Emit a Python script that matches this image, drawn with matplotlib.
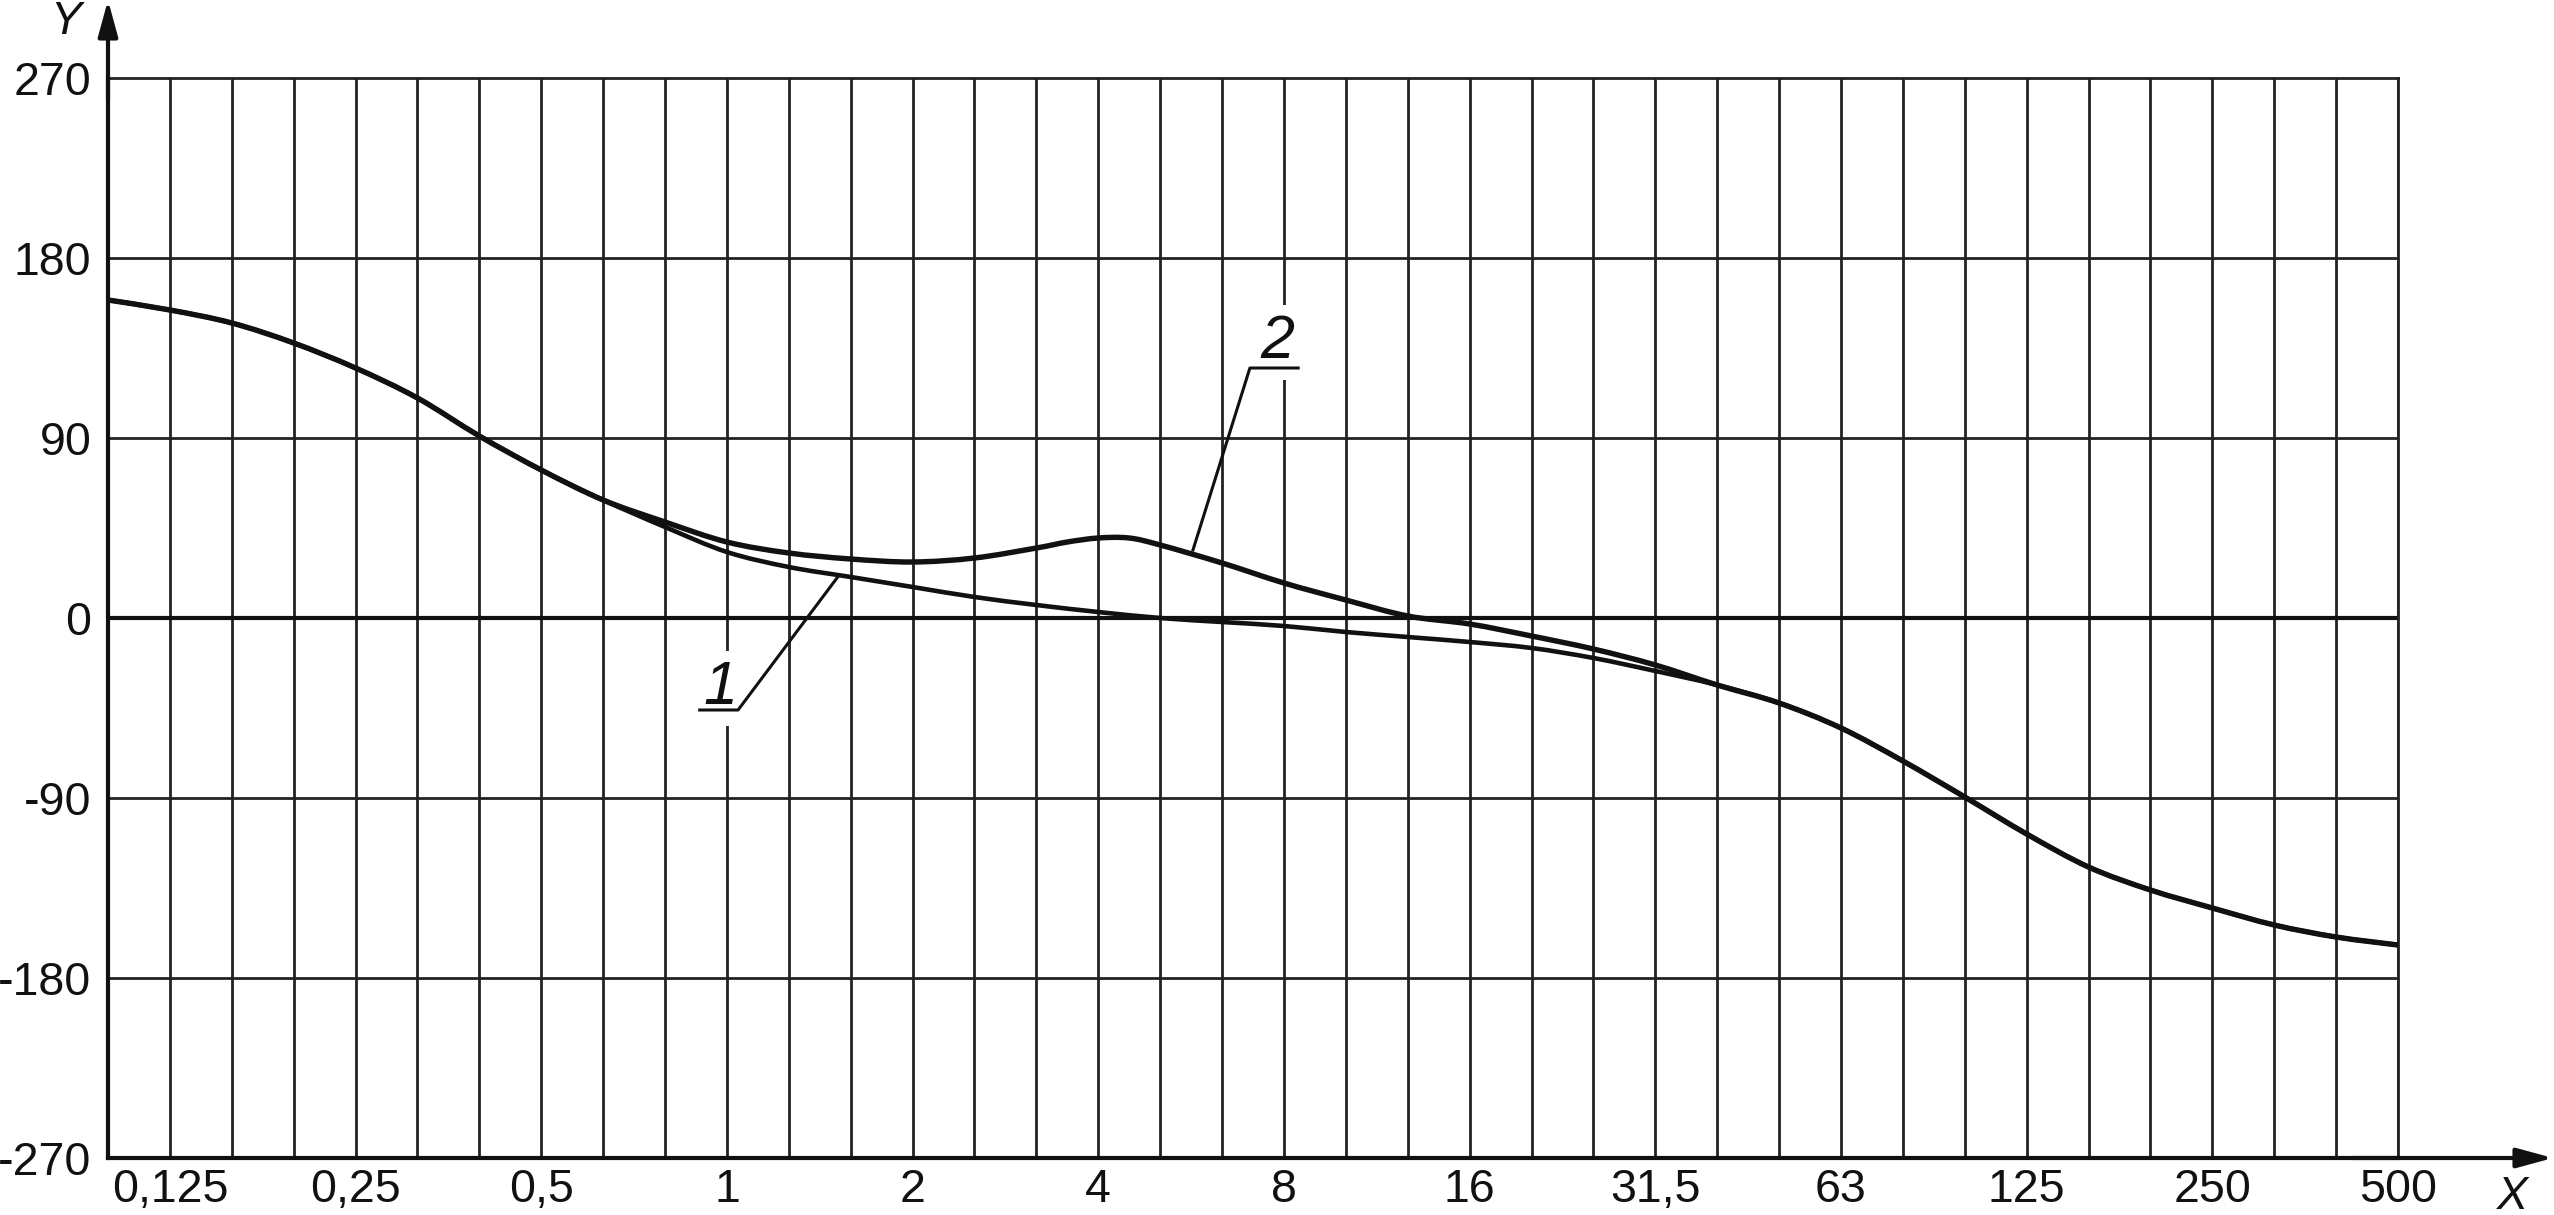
import numpy as np
import matplotlib.pyplot as plt
from matplotlib.path import Path
from matplotlib.patches import PathPatch

# third-octave steps counted from the left edge of the grid (0.1)
steps1 = list(range(38))
curve1 = [159, 154, 147.5, 137.5, 125, 110, 91, 74, 59, 45.5, 33, 25.5, 20.5, 15.5,
          10.5, 6.5, 3, 0, -2, -4, -7, -9.5, -12, -15, -20, -26.5, -33.5, -42.5,
          -55, -71.5, -89.5, -108, -124.5, -136, -145, -153.5, -159.5, -163.5]

steps2 = list(range(16)) + [15.5, 16, 16.5] + list(range(17, 38))
steps2 = sorted(set(steps2))
curve2 = [159, 154, 147.5, 137.5, 125, 110, 91, 74, 59, 48, 38, 32.5, 29.5, 28, 30,
          35, 38, 40, 40, 36.5, 27.5, 17.5, 9, 1, -3, -9, -15.5, -23.5, -33.5,
          -42.5, -55, -71.5, -89.5, -108, -124.5, -136, -145, -153.5, -159.5, -163.5]

x_labels = ['0,125', '0,25', '0,5', '1', '2', '4', '8', '16', '31,5', '63', '125', '250', '500']
y_ticks = [-270, -180, -90, 0, 90, 180, 270]

f0 = 0.125 * 2 ** (-1 / 3)


def band(n):
    return f0 * 2 ** (np.asarray(n, dtype=float) / 3)


def smooth_path(steps, vals):
    # draw the read points as one smooth bezier curve (catmull-rom style)
    p = np.column_stack([steps, vals]).astype(float)
    ext = np.vstack([p[0], p, p[-1]])
    verts = [p[0]]
    codes = [Path.MOVETO]
    for i in range(len(p) - 1):
        p0, p1, p2, p3 = ext[i], ext[i + 1], ext[i + 2], ext[i + 3]
        verts += [p1 + (p2 - p0) / 6, p2 - (p3 - p1) / 6, p2]
        codes += [Path.CURVE4] * 3
    verts = np.array(verts)
    verts[:, 0] = band(verts[:, 0])
    return Path(verts, codes)


plt.rcParams['font.family'] = ['Liberation Sans', 'DejaVu Sans']

fig = plt.figure(figsize=(25.54, 12.15), dpi=100)
ax = fig.add_axes([108 / 2554, 1 - 1158 / 1215, 2290 / 2554, 1080 / 1215])
ax.set_xscale('log', base=2)
ax.set_xlim(band(0), band(37))
ax.set_ylim(-270, 270)

grid_c = '#222222'
grid_lw = 2.0
ink = '#111111'

# grid
for n in range(1, 38):
    ax.axvline(band(n), color=grid_c, lw=grid_lw, zorder=1)
for v in y_ticks[1:-1]:
    ax.axhline(v, color=grid_c, lw=grid_lw, zorder=1)
ax.axhline(0, color=ink, lw=3.0, zorder=2)

# curves
ax.add_patch(PathPatch(smooth_path(steps1, curve1), fill=False, ec=ink, lw=3.3, zorder=4))
ax.add_patch(PathPatch(smooth_path(steps2, curve2), fill=False, ec=ink, lw=3.9, zorder=4))

# ticks
ax.set_xticks(band([1 + 3 * k for k in range(13)]))
ax.set_xticklabels(x_labels)
ax.xaxis.set_minor_locator(plt.NullLocator())
ax.set_yticks(y_ticks)
ax.set_yticklabels([str(v) for v in y_ticks])
ax.tick_params(axis='both', length=0, labelsize=33.5, colors=ink)
ax.tick_params(axis='x', pad=7)
ax.tick_params(axis='y', pad=12)

for side in ['top', 'right']:
    ax.spines[side].set_linewidth(grid_lw)
    ax.spines[side].set_color(grid_c)
for side in ['left', 'bottom']:
    ax.spines[side].set_linewidth(3.0)
    ax.spines[side].set_color(ink)

# axis arrows
arrow = dict(arrowstyle='-|>,head_length=1.1,head_width=0.3', lw=3, color=ink,
             mutation_scale=20, shrinkA=0, shrinkB=0)
ax.annotate('', xy=(0, 1 + 78 / 1080), xycoords='axes fraction', xytext=(0, 0.98),
            textcoords='axes fraction', arrowprops=arrow, annotation_clip=False)
ax.annotate('', xy=(1 + 155 / 2290, 0), xycoords='axes fraction', xytext=(0.98, 0),
            textcoords='axes fraction', arrowprops=arrow, annotation_clip=False)
fig.text(66 / 2554, 1 - 34 / 1215, 'Y', fontsize=33.5, style='italic', ha='center',
         va='baseline', color=ink)
fig.text(2512 / 2554, 1 - 1209 / 1215, 'X', fontsize=33.5, style='italic', ha='center',
         va='baseline', color=ink)

# curve labels with leaders
box = dict(fc='white', ec='none', pad=6)
ax.text(band(9.9), -43, '1', fontsize=44, style='italic', ha='center', va='baseline',
        bbox=box, zorder=5, color=ink)
ax.plot(band([9.56, 10.18, 11.79]), [-46, -46, 20.5], color=ink, lw=2.2, zorder=6)
ax.text(band(18.9), 130, '2', fontsize=44, style='italic', ha='center', va='baseline',
        bbox=box, zorder=5, color=ink)
ax.plot(band([19.23, 18.45, 17.53]), [125, 125, 34], color=ink, lw=2.2, zorder=6)

fig.savefig('out.png', dpi=100)
